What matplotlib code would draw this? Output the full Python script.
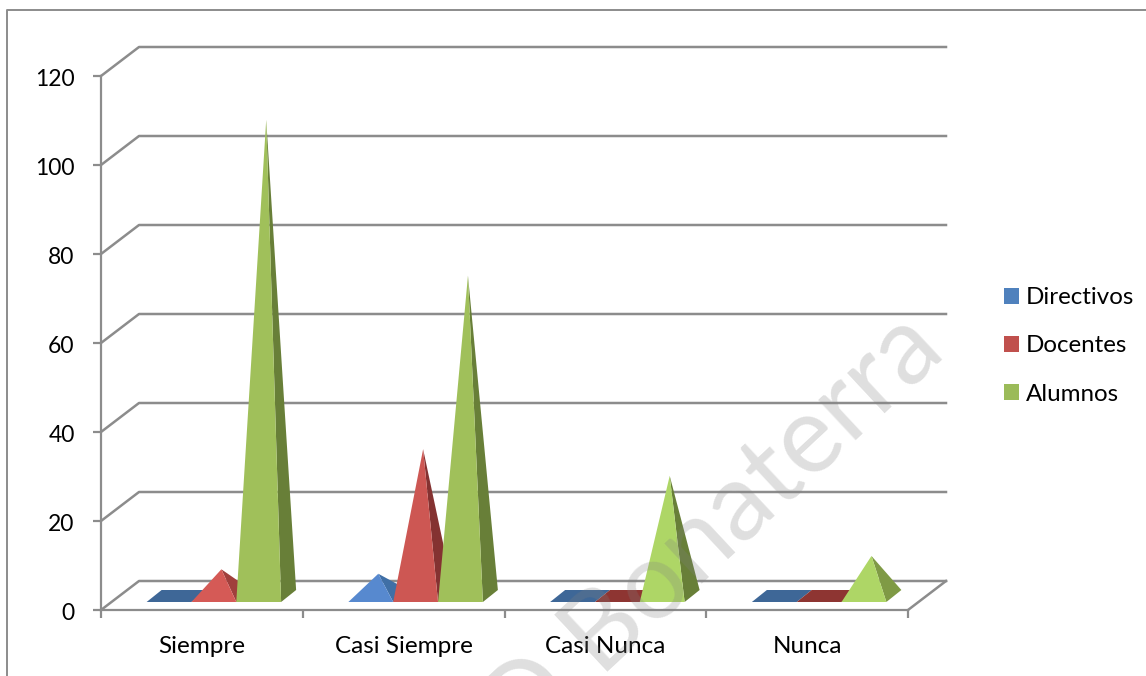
import numpy as np
import matplotlib
matplotlib.use('Agg')
import matplotlib.pyplot as plt
from matplotlib.patches import Patch, Polygon
from matplotlib.transforms import ScaledTranslation

# --- Datos ---
categorias = ['Siempre', 'Casi Siempre', 'Casi Nunca', 'Nunca']
series = ['Directivos', 'Docentes', 'Alumnos']
directivos = [0, 5, 0, 0]
docentes = [6, 33, 0, 0]
alumnos = [107, 72, 27, 9]
y_ticks = [0, 20, 40, 60, 80, 100, 120]

# colores: leyenda, cara frontal (barra alta / baja), lado, base plana
col_leyenda = ['#4F81BD', '#C0504D', '#9BBB59']
col_frente = ['#5789CF', '#CD5753', '#A0C05A']
col_frente_bajo = ['#5789CF', '#D55A56', '#AED666']
col_lado = ['#3F6FA6', '#843231', '#687F38']
col_lado_bajo = ['#3F6FA6', '#A03F3C', '#7F9A45']
col_plano = ['#3E6797', '#8E3532', '#6E8C39']
gris = '#8C8C8C'

W, H = 1146, 676
px_x = 807 / 4      # px por categoria
px_y = 534 / 120    # px por unidad

plt.rcParams['font.family'] = ['Lato', 'DejaVu Sans']
fig = plt.figure(figsize=(W / 100, H / 100), dpi=100)
ax = fig.add_axes([101 / W, 1 - 610 / H, 807 / W, 534 / H])
ax.set_xlim(0, 4)
ax.set_ylim(0, 120)
ax.patch.set_alpha(0)

# marco del grafico
fig.add_artist(plt.Line2D([7 / W, 7 / W, 1], [0, 1 - 10 / H, 1 - 10 / H], color=gris, lw=1.4))

# profundidad de la pared y del piso, en unidades de datos
pared_x, pared_y = 38 / px_x, 29 / px_y
piso_x, piso_y = 12 / px_x, 8 / px_y
prof_x, prof_y = 15 / px_x, 12 / px_y

for v in y_ticks:
    ax.plot([0, pared_x, 4 + pared_x], [v, v + pared_y, v + pared_y], color=gris, lw=1.8,
            clip_on=False, zorder=1, solid_joinstyle='round')
ax.plot([4, 4 + pared_x], [0, pared_y], color=gris, lw=1.8, clip_on=False, zorder=1)

ancho = 1 / 4.5
for s, valores in enumerate([directivos, docentes, alumnos]):
    for i, v in enumerate(valores):
        x0 = i + (0.75 + s) * ancho + piso_x
        x1 = x0 + ancho
        y0 = piso_y
        if v == 0:
            ax.add_patch(Polygon([(x0, y0), (x1, y0), (x1 + prof_x, y0 + prof_y), (x0 + prof_x, y0 + prof_y)],
                                 fc=col_plano[s], ec='none', clip_on=False, zorder=2 + s))
            continue
        punta = ((x0 + x1 + prof_x) / 2, y0 + prof_y / 2 + v)
        lado = col_lado if v > 10 else col_lado_bajo
        frente = col_frente if v > 30 else col_frente_bajo
        ax.add_patch(Polygon([(x1, y0), (x1 + prof_x, y0 + prof_y), punta],
                             fc=lado[s], ec='none', clip_on=False, zorder=2 + s))
        ax.add_patch(Polygon([(x0, y0), (x1, y0), punta],
                             fc=frente[s], ec='none', clip_on=False, zorder=2 + s))

# ejes
for lado_eje in ['top', 'right']:
    ax.spines[lado_eje].set_visible(False)
for lado_eje in ['left', 'bottom']:
    ax.spines[lado_eje].set_color(gris)
    ax.spines[lado_eje].set_linewidth(1.6)
ax.set_yticks(y_ticks)
ax.tick_params(axis='y', length=6, width=1.6, color=gris, labelsize=16.5, pad=13, labelcolor='black')
bajar = ScaledTranslation(0, -1.5 / 100, fig.dpi_scale_trans)
for lab in ax.get_yticklabels():
    lab.set_transform(lab.get_transform() + bajar)
ax.set_xticks(np.arange(5))
ax.set_xticklabels([])
ax.tick_params(axis='x', which='major', length=6, width=1.6, color=gris)
ax.set_xticks(np.arange(4) + 0.5, categorias, minor=True)
ax.tick_params(axis='x', which='minor', length=0, labelsize=17.5, pad=18.5)

manijas = [Patch(fc=c, ec='none') for c in col_leyenda]
fig.legend(manijas, series, loc='center left', bbox_to_anchor=(1004 / W, 1 - 346 / H), frameon=False,
           fontsize=17.4, handlelength=0.62, handleheight=0.62, handletextpad=0.29, labelspacing=1.12,
           borderpad=0, borderaxespad=0)

# marca de agua
fig.text(948 / W, 1 - 355 / H, 'D Bonaterra', fontsize=78, color='#808080', alpha=0.25,
         rotation=43, rotation_mode='anchor', ha='right', va='baseline')

fig.savefig('out.png', dpi=100)
